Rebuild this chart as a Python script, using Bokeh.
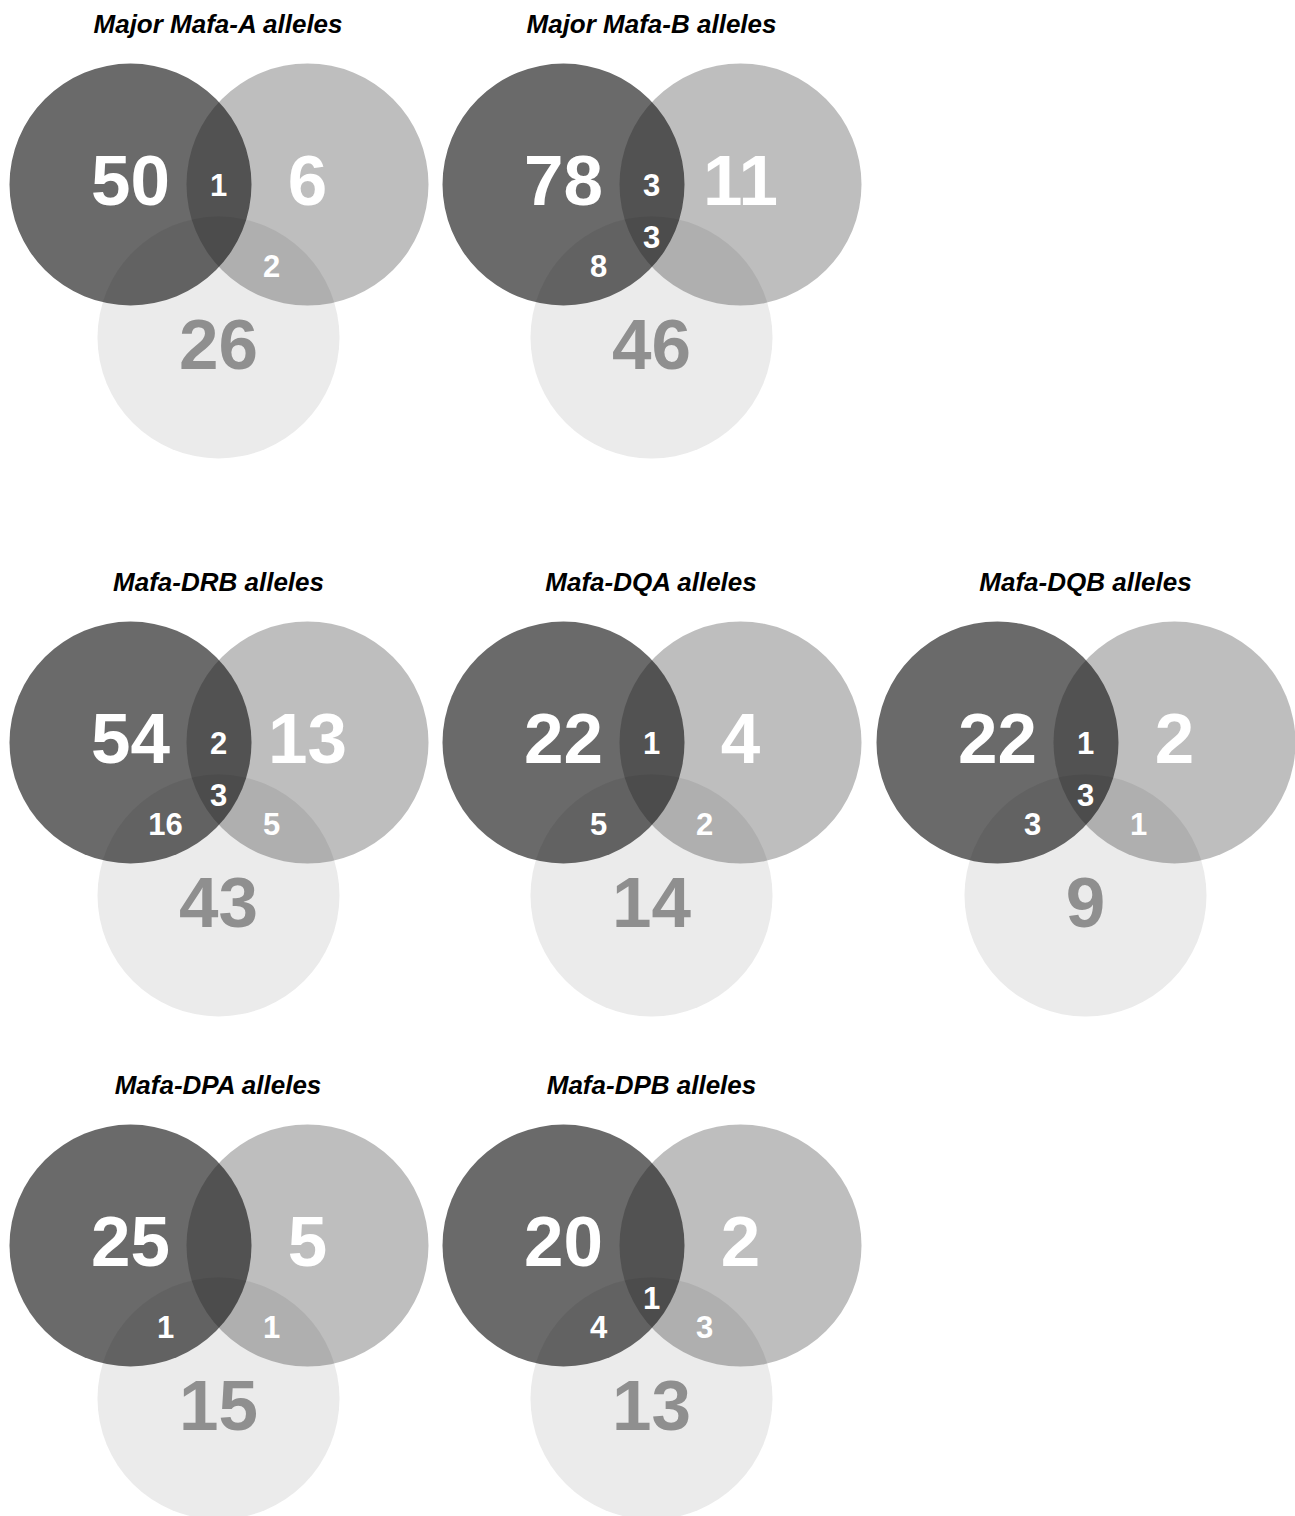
from bokeh.plotting import figure
from bokeh.models import Range1d
from bokeh.embed import file_html
from bokeh.resources import INLINE
from bokeh.core.properties import value

# ---- data ----
titles = ["Major Mafa-A alleles", "Major Mafa-B alleles", "Mafa-DRB alleles",
          "Mafa-DQA alleles", "Mafa-DQB alleles", "Mafa-DPA alleles", "Mafa-DPB alleles"]
only_a = [50, 78, 54, 22, 22, 25, 20]
only_b = [6, 11, 13, 4, 2, 5, 2]
only_c = [26, 46, 43, 14, 9, 15, 13]
ab = [1, 3, 2, 1, 1, None, None]
ac = [None, 8, 16, 5, 3, 1, 4]
bc = [2, None, 5, 2, 1, 1, 3]
abc = [None, 3, 3, None, 3, None, 1]

# ---- layout (pixel units) ----
grid_col = [0, 1, 0, 1, 2, 0, 1]
grid_row = [0, 0, 1, 1, 1, 2, 2]
col_x = [130, 563, 997]
row_y = [184, 742, 1245]
R = 121
B_OFF = (177, 0)
C_OFF = (88, 153)

W, H = 1295, 1516
p = figure(width=W, height=H, x_range=Range1d(0, W), y_range=Range1d(H, 0),
           output_backend="svg", toolbar_location=None, min_border=0)
p.axis.visible = False
p.grid.visible = False
p.outline_line_color = None
p.background_fill_color = "white"
p.border_fill_color = "white"

ax = [col_x[c] for c in grid_col]
ay = [row_y[r] for r in grid_row]
bx = [x + B_OFF[0] for x in ax]
by = [y + B_OFF[1] for y in ay]
cx = [x + C_OFF[0] for x in ax]
cy = [y + C_OFF[1] for y in ay]

p.circle(x=ax, y=ay, radius=R, fill_color="#6a6a6a", fill_alpha=1.0, line_color=None)
p.circle(x=bx, y=by, radius=R, fill_color="#171717", fill_alpha=0.28, line_color=None)
p.circle(x=cx, y=cy, radius=R, fill_color="#191919", fill_alpha=0.087, line_color=None)

def fmt(v):
    return "" if v is None else str(v)

big_x, big_y, big_t, big_c = [], [], [], []
sm_x, sm_y, sm_t = [], [], []
for i in range(len(titles)):
    x0, y0 = ax[i], ay[i]
    big_x += [x0, x0 + 177, x0 + 88]
    big_y += [y0 - 4, y0 - 4, y0 + 160]
    big_t += [fmt(only_a[i]), fmt(only_b[i]), fmt(only_c[i])]
    big_c += ["white", "white", "#8f8f8f"]
    sm_x += [x0 + 88, x0 + 35, x0 + 141, x0 + 88]
    sm_y += [y0 + 0, y0 + 81, y0 + 81, y0 + 52]
    sm_t += [fmt(ab[i]), fmt(ac[i]), fmt(bc[i]), fmt(abc[i])]

p.text(x=big_x, y=big_y, text=big_t, text_color=big_c, text_font=value("Liberation Sans"),
       text_font_style="bold", text_font_size="71px", text_align="center",
       text_baseline="middle")
p.text(x=sm_x, y=sm_y, text=sm_t, text_color="white", text_font=value("Liberation Sans"),
       text_font_style="bold", text_font_size="31px", text_align="center",
       text_baseline="middle")
p.text(x=[x + 88 for x in ax], y=[y - 161 for y in ay], text=titles, text_color="black",
       text_font=value("Liberation Sans"), text_font_style="bold italic",
       text_font_size="26px", text_align="center", text_baseline="middle")

open("out.html", "w").write(file_html(p, INLINE))
